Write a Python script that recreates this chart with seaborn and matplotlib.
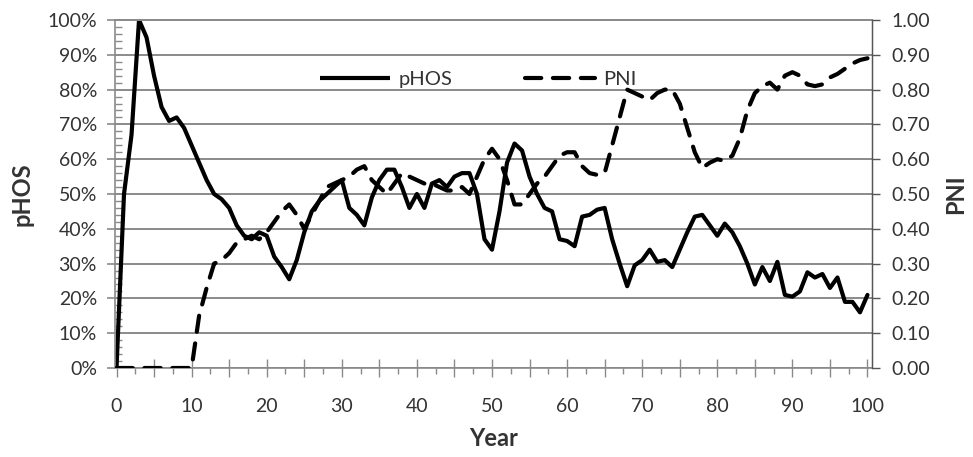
import numpy as np
import pandas as pd
import matplotlib
matplotlib.use("Agg")
import matplotlib.pyplot as plt
from matplotlib.ticker import MultipleLocator, FuncFormatter
from matplotlib.lines import Line2D
import seaborn as sns

years = list(range(0, 101))

phos = [0, 50, 67, 100, 95, 84, 75, 71, 72, 69,
        64, 59, 54, 50, 48.5, 46, 41, 38, 37, 39,
        38, 32, 29, 25.5, 31, 39, 45, 48, 50, 52,
        54, 46, 44, 41, 49, 54, 57, 57, 52, 46,
        50, 46, 53, 54, 52, 55, 56, 56, 50, 37,
        34, 45, 59, 64.5, 62.5, 55, 50, 46, 45, 37,
        36.5, 35, 43.5, 44, 45.5, 46, 37, 30, 23.5, 29.5,
        31, 34, 30.5, 31, 29, 34, 39, 43.5, 44, 41,
        38, 41.5, 39, 35, 30, 24, 29, 25, 30.5, 21,
        20.5, 22, 27.5, 26, 27, 23, 26, 19, 19, 16,
        21]

pni = [0, 0, 0, 0, 0, 0, 0, 0, 0, 0,
       0, 0.15, 0.23, 0.30, 0.31, 0.33, 0.36, 0.37, 0.38, 0.37,
       0.39, 0.42, 0.45, 0.47, 0.44, 0.40, 0.44, 0.48, 0.52, 0.53,
       0.54, 0.55, 0.57, 0.58, 0.54, 0.52, 0.50, 0.53, 0.56, 0.55,
       0.54, 0.53, 0.53, 0.52, 0.51, 0.51, 0.52, 0.50, 0.55, 0.60,
       0.63, 0.60, 0.54, 0.47, 0.47, 0.50, 0.53, 0.55, 0.58, 0.61,
       0.62, 0.62, 0.58, 0.56, 0.555, 0.56, 0.64, 0.72, 0.80, 0.79,
       0.78, 0.77, 0.79, 0.80, 0.80, 0.76, 0.69, 0.62, 0.575, 0.59,
       0.60, 0.595, 0.61, 0.66, 0.74, 0.79, 0.81, 0.82, 0.80, 0.84,
       0.85, 0.84, 0.815, 0.81, 0.815, 0.835, 0.845, 0.86, 0.875, 0.885,
       0.89]

df = pd.DataFrame({"Year": years, "pHOS": np.array(phos) / 100.0, "PNI": pni})

sns.set_style("white")
plt.rcParams["font.family"] = ["Lato", "DejaVu Sans"]

TXT = "#333333"
GRID = "#8a8a8a"
DASH = (3.9, 2.8)

fig = plt.figure(figsize=(9.73, 4.57), dpi=100)
ax = fig.add_axes([115 / 973, 1 - 368 / 457, (872 - 115) / 973, (368 - 20) / 457])
ax2 = ax.twinx()

sns.lineplot(data=df, x="Year", y="pHOS", ax=ax, color="black", linewidth=3.0,
             solid_joinstyle="round", solid_capstyle="round", legend=False)
sns.lineplot(data=df, x="Year", y="PNI", ax=ax2, color="black", linewidth=3.0,
             legend=False)
pl = ax2.get_lines()[0]
pl.set_dashes(DASH)
pl.set_dash_capstyle("round")

ax.set_xlim(-0.2, 100.6)
ax.set_ylim(0, 1)
ax2.set_ylim(0, 1)

ax.yaxis.set_major_locator(MultipleLocator(0.1))
ax.yaxis.set_minor_locator(MultipleLocator(0.02))
ax.yaxis.set_major_formatter(FuncFormatter(lambda v, p: f"{v*100:.0f}%"))
ax2.yaxis.set_major_locator(MultipleLocator(0.1))
ax2.yaxis.set_major_formatter(FuncFormatter(lambda v, p: f"{v:.2f}"))

ax.xaxis.set_major_locator(MultipleLocator(5))
ax.xaxis.set_minor_locator(MultipleLocator(2.5))
ax.xaxis.set_major_formatter(FuncFormatter(lambda v, p: f"{v:.0f}" if round(v) % 10 == 0 else ""))

ax.grid(axis="y", which="major", color=GRID, linewidth=1.4)
ax.grid(axis="x", visible=False)
ax2.grid(False)
ax.set_axisbelow(True)

ax.spines["top"].set_visible(True)
ax.spines["top"].set_color(GRID)
ax.spines["top"].set_linewidth(1.4)
ax.spines["left"].set_color(GRID)
ax.spines["bottom"].set_color(GRID)
ax.spines["left"].set_linewidth(1.2)
ax.spines["bottom"].set_linewidth(1.2)
ax2.spines["right"].set_color("#555555")
ax2.spines["right"].set_linewidth(1.0)
for s in ["left", "bottom", "top"]:
    ax2.spines[s].set_visible(False)

LS = 14
ax.tick_params(axis="y", which="major", direction="out", length=6, width=1.2,
               color=GRID, labelsize=LS, labelcolor=TXT, pad=7, left=True)
ax.tick_params(axis="y", which="minor", direction="in", length=5, width=1.0,
               color=GRID, left=True)
ax.tick_params(axis="x", which="major", direction="inout", length=13, width=1.0,
               color=GRID, labelsize=LS, labelcolor=TXT, pad=15, bottom=True)
ax.tick_params(axis="x", which="minor", direction="out", length=4, width=1.0,
               color=GRID, bottom=True)
ax2.tick_params(axis="y", which="major", direction="out", length=6, width=1.0,
                color="#555555", labelsize=LS, labelcolor=TXT, pad=8, right=True)

ax.set_xlabel("Year", fontsize=17, fontweight="bold", color=TXT, labelpad=9)
ax.set_ylabel("pHOS", fontsize=17, fontweight="bold", color=TXT, labelpad=10)
ax2.set_ylabel("PNI", fontsize=17, fontweight="bold", color=TXT, labelpad=10)

h1 = Line2D([], [], color="black", linewidth=3.0, solid_capstyle="butt")
h2 = Line2D([], [], color="black", linewidth=3.0)
h2.set_dashes(DASH)
h2.set_dash_capstyle("round")
leg = ax2.legend([h1, h2], ["pHOS", "PNI"], loc="center", bbox_to_anchor=(0.48, 0.83),
                 ncol=2, frameon=False, fontsize=14.5, handlelength=3.5,
                 columnspacing=3.6, handletextpad=0.4)
for t in leg.get_texts():
    t.set_color(TXT)

fig.savefig("out.png", dpi=100)
